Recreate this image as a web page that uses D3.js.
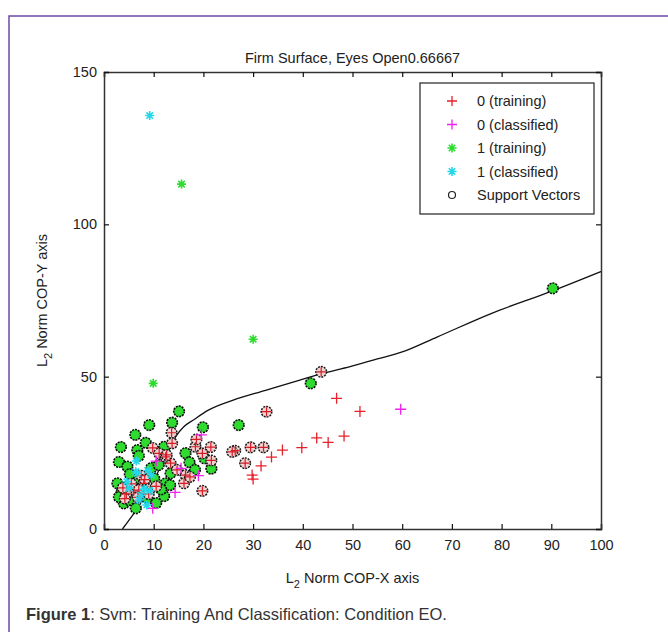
<!DOCTYPE html>
<html><head><meta charset="utf-8">
<script src="https://cdn.jsdelivr.net/npm/d3@7/dist/d3.min.js"></script>
<style>
html,body{margin:0;padding:0;background:#fff;}
svg{display:block;}
text{font-family:"Liberation Sans",Arial,sans-serif;fill:#222;}
</style></head>
<body>
<svg id="chart" width="668" height="632"></svg>
<script>
// ---- data ----
const chartTitle = "Firm Surface, Eyes Open0.66667";
const xTicks = [0,10,20,30,40,50,60,70,80,90,100];
const yTicks = [0,50,100,150];
const legendLabels = ["0 (training)","0 (classified)","1 (training)","1 (classified)","Support Vectors"];

// class 0 training points (red +), not support vectors
const train0 = [[46.8,42.9],[51.5,38.6],[48.3,30.5],[45.1,28.4],[42.8,29.9],[39.8,26.7],[35.9,25.9],[33.7,23.6],[31.6,20.7],[29.8,17.7],[30.0,16.4]];
// class 0 training points that are support vectors
const train0SV = [[43.7,51.6],[32.7,38.5],[13.6,31.6],[13.7,28.1],[9.8,26.6],[11.1,24.8],[18.4,27.0],[21.5,26.9],[19.8,24.8],[21.6,22.5],[16.4,17.7],[16.1,15.0],[19.8,12.5],[13.4,21.6],[14.7,19.4],[12.4,23.7],[18.6,29.4],[32.1,26.8],[29.5,26.8],[28.4,21.6],[26.4,25.7],[25.8,25.3],[17.3,17.1],[12.6,24.3],[8.0,15.0],[6.0,12.5],[9.0,11.5],[4.5,11.5],[7.5,17.5],[10.5,14.0],[3.8,13.5],[5.5,14.8],[7.0,12.8],[4.2,10.0],[6.8,10.4],[8.2,16.2]];
// class 0 classified (magenta +)
const class0 = [[59.7,39.3],[19.6,30.9],[19.0,17.5],[15.5,19.9],[14.3,12.0],[9.8,6.8],[10.5,22.3]];
// class 1 training points (green *), not support vectors
const train1 = [[9.9,47.8],[15.6,113.2],[30.0,62.3]];
// class 1 training points that are support vectors
const train1SV = [[9.1,34.1],[13.7,34.9],[15.1,38.6],[19.9,33.4],[27.1,34.1],[41.6,47.8],[90.3,79.0],[6.3,30.9],[3.4,26.9],[3.0,22.0],[8.4,28.3],[4.7,20.5],[6.7,25.9],[12.1,27.0],[16.4,24.9],[17.2,21.9],[18.3,19.4],[21.6,19.8],[20.2,23.2],[12.4,15.0],[12.1,10.8],[4.0,8.4],[6.4,6.8],[8.7,10.1],[4.7,13.9],[2.7,15.0],[10.1,16.6],[13.4,18.3],[13.3,14.4],[3.5,12.0],[5.5,11.0],[7.5,14.5],[6.0,16.0],[3.0,10.5],[5.0,9.5],[9.5,20.0],[11.0,21.0],[7.0,24.0],[5.2,18.0],[11.5,13.0],[10.5,8.5]];
// class 1 classified (cyan *)
const class1 = [[9.2,135.7],[6.5,22.3],[6.4,18.8],[8.8,19.2],[9.5,17.7],[5.1,13.4],[8.1,13.1],[9.2,12.5],[7.1,9.5],[8.6,7.9],[4.6,15.5],[6.7,18.3],[7.5,11.0]];
// SVM decision boundary
const boundary = [[3.7,0],[7,7.5],[10,16],[12.5,24],[14.5,30.5],[16,33.5],[18,35.8],[21,39],[26,42.3],[32.5,45.5],[39.4,48.9],[43.8,51],[49.5,53.3],[55,55.8],[60,58.1],[67,63],[78,70.8],[90,78],[100,84.5]];

// ---- layout ----
const svg = d3.select("#chart");
const L = 104, R = 601, T = 72, B = 529;
const x = d3.scaleLinear().domain([0,100]).range([L,R]);
const y = d3.scaleLinear().domain([0,150]).range([B,T]);

// outer purple frame
svg.append("path").attr("d","M9,632 L9,16 L668,16").attr("fill","none").attr("stroke","#6d4ba3").attr("stroke-width",1.5);

// caption
const cap = svg.append("text").attr("x",26).attr("y",620).attr("font-size",16.5).style("fill","#333");
cap.append("tspan").attr("font-weight","bold").text("Figure 1");
cap.append("tspan").text(": Svm: Training And Classification: Condition EO.");

// title
svg.append("text").attr("x",(L+R)/2).attr("y",63).attr("text-anchor","middle").attr("font-size",14.5).text(chartTitle);

// axes
const axCol = "#333";
const gx = svg.append("g").attr("transform",`translate(0,${B})`)
  .call(d3.axisBottom(x).tickValues(xTicks).tickSize(-5).tickPadding(11).tickFormat(d3.format("d")));
const gxTop = svg.append("g").attr("transform",`translate(0,${T})`)
  .call(d3.axisTop(x).tickValues(xTicks).tickSize(-5).tickFormat(""));
const gy = svg.append("g").attr("transform",`translate(${L},0)`)
  .call(d3.axisLeft(y).tickValues(yTicks).tickSize(-5).tickPadding(7).tickFormat(d3.format("d")));
const gyR = svg.append("g").attr("transform",`translate(${R},0)`)
  .call(d3.axisRight(y).tickValues(yTicks).tickSize(-5).tickFormat(""));
[gx,gxTop,gy,gyR].forEach(g=>{
  g.select(".domain").attr("stroke",axCol).attr("stroke-width",1.5);
  g.selectAll(".tick line").attr("stroke","#111").attr("stroke-width",1.2);
  g.selectAll("text").attr("font-size",14.5).style("font-family","'Liberation Sans',Arial,sans-serif").style("fill","#222");
});

// axis labels
const xl = svg.append("text").attr("x",(L+R)/2).attr("y",583).attr("text-anchor","middle").attr("font-size",14.5);
xl.append("tspan").text("L");
xl.append("tspan").attr("font-size",11).attr("dy",5).text("2");
xl.append("tspan").attr("dy",-5).text(" Norm COP-X axis");
const yl = svg.append("text").attr("transform",`translate(47,${(T+B)/2}) rotate(-90)`).attr("text-anchor","middle").attr("font-size",14.5);
yl.append("tspan").text("L");
yl.append("tspan").attr("font-size",11).attr("dy",5).text("2");
yl.append("tspan").attr("dy",-5).text(" Norm COP-Y axis");

// markers
const plusPath = s => `M${-s},0H${s}M0,${-s}V${s}`;
const starPath = s => { const d=s*0.72; return `M${-s},0H${s}M0,${-s}V${s}M${-d},${-d}L${d},${d}M${-d},${d}L${d},${-d}`; };
const colRed="#e8202a", colMag="#ee22ee", colGreen="#2edb2e", colCyan="#22d8e8";
const plot = svg.append("g");

// decision boundary
plot.append("path").datum(boundary)
  .attr("d", d3.line().x(d=>x(d[0])).y(d=>y(d[1])).curve(d3.curveMonotoneX))
  .attr("fill","none").attr("stroke","#111").attr("stroke-width",1.3);

// support-vector circles
const svR = 5.3;
plot.selectAll(".sv1").data(train1SV).join("circle")
  .attr("cx",d=>x(d[0])).attr("cy",d=>y(d[1])).attr("r",svR)
  .attr("fill",colGreen).attr("stroke","#0a0a0a").attr("stroke-width",1.6).attr("stroke-dasharray","2,1");
plot.selectAll(".sv0").data(train0SV).join("circle")
  .attr("cx",d=>x(d[0])).attr("cy",d=>y(d[1])).attr("r",svR)
  .attr("fill","#f3d2d2").attr("stroke","#1a1a1a").attr("stroke-width",1.5).attr("stroke-dasharray","2,1");
plot.selectAll(".p0sv").data(train0SV).join("path")
  .attr("transform",d=>`translate(${x(d[0])},${y(d[1])})`).attr("d",plusPath(4.5))
  .attr("stroke","#d41c26").attr("stroke-width",1.2).attr("fill","none");

// training points
plot.selectAll(".p0").data(train0).join("path")
  .attr("transform",d=>`translate(${x(d[0])},${y(d[1])})`).attr("d",plusPath(5.5))
  .attr("stroke",colRed).attr("stroke-width",1.3).attr("fill","none");
plot.selectAll(".p1").data(train1).join("path")
  .attr("transform",d=>`translate(${x(d[0])},${y(d[1])})`).attr("d",starPath(4.5))
  .attr("stroke",colGreen).attr("stroke-width",1.6).attr("fill","none");
// classified points
plot.selectAll(".c0").data(class0).join("path")
  .attr("transform",d=>`translate(${x(d[0])},${y(d[1])})`).attr("d",plusPath(5.5))
  .attr("stroke",colMag).attr("stroke-width",1.3).attr("fill","none");
plot.selectAll(".c1").data(class1).join("path")
  .attr("transform",d=>`translate(${x(d[0])},${y(d[1])})`).attr("d",starPath(4.5))
  .attr("stroke",colCyan).attr("stroke-width",1.6).attr("fill","none");

// legend
const lg = svg.append("g");
lg.append("rect").attr("x",420).attr("y",83).attr("width",174).attr("height",131)
  .attr("fill","#fff").attr("stroke","#222").attr("stroke-width",1.2);
const rowY = i => 101 + i*23.5;
const legendMarks = [
  g=>g.append("path").attr("d",plusPath(5)).attr("stroke",colRed).attr("stroke-width",1.3),
  g=>g.append("path").attr("d",plusPath(5)).attr("stroke",colMag).attr("stroke-width",1.3),
  g=>g.append("path").attr("d",starPath(4.5)).attr("stroke",colGreen).attr("stroke-width",1.6),
  g=>g.append("path").attr("d",starPath(4.5)).attr("stroke",colCyan).attr("stroke-width",1.6),
  g=>g.append("circle").attr("r",3.5).attr("fill","none").attr("stroke","#222").attr("stroke-width",1.2)
];
legendLabels.forEach((lab,i)=>{
  const g = lg.append("g").attr("transform",`translate(452,${rowY(i)})`);
  legendMarks[i](g);
  lg.append("text").attr("x",477).attr("y",rowY(i)+5).attr("font-size",14.5).text(lab);
});
</script>
</body></html>
